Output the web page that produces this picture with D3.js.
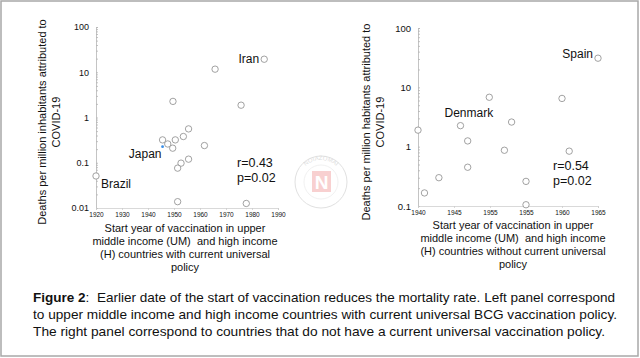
<!DOCTYPE html>
<meta charset="utf-8">
<style>
  body { margin: 0; background: #fff; }
  text { font-family: "Liberation Sans", Arial, sans-serif; fill: #111; white-space: pre; }
</style>
<svg width="640" height="358" id="chart"></svg>
<script src="https://d3js.org/d3.v7.min.js"></script>
<script>

// left panel: countries with current universal BCG policy
var leftYears  = [1920, 1945.6, 1947.6, 1949.5, 1950.5, 1953.6, 1955.6, 1961.7, 1955.6, 1952.7, 1951.4, 1951.4, 1977.8, 1984.7, 1965.8, 1949.6, 1975.8]
var leftDeaths = [0.051, 0.32, 0.26, 0.21, 0.32, 0.38, 0.56, 0.24, 0.12, 0.098, 0.076, 0.0138, 0.0126, 19.4, 11.7, 2.27, 1.87]
var leftLabels = [{name: "Brazil", i: 0, dx: 5, dy: 12, anchor: "start"},
                  {name: "Iran", i: 13, dx: -5, dy: 4, anchor: "end"}]
var japan = {year: 1945.6, deaths: 0.227}
var leftXTicks = [1920, 1930, 1940, 1950, 1960, 1970, 1980, 1990]
var leftYTicks = [0.01, 0.1, 1, 10, 100]

// right panel: countries without current universal policy
var rightYears  = [1940, 1945.9, 1953.0, 1946.9, 1952.0, 1961.0, 1946.9, 1942.9, 1940.9, 1955.0, 1955.0, 1949.9, 1960.0, 1965.0]
var rightDeaths = [1.9, 2.26, 2.6, 1.25, 0.87, 0.84, 0.45, 0.30, 0.166, 0.26, 0.105, 6.8, 6.5, 31]
var rightLabels = [{name: "Denmark", i: 1, dx: -16, dy: -9, anchor: "start"},
                   {name: "Spain", i: 13, dx: -5, dy: 0, anchor: "end"}]
var rightXTicks = [1940, 1945, 1950, 1955, 1960, 1965]
var rightXTickText = ["1940", "1945", "1955", "1955", "1960", "1965"]
var rightYTicks = [0.1, 1, 10, 100]

var caption = [
  "Earlier date of the start of vaccination reduces the mortality rate. Left panel correspond",
  "to upper middle income and high income countries with current universal BCG vaccination policy.",
  "The right panel correspond to countries that do not have a current universal vaccination policy."
]

var svg = d3.select("#chart")

svg.append("rect")
  .attr("x", 1).attr("y", 1).attr("width", 637).attr("height", 355)
  .attr("fill", "none").attr("stroke", "#a8a8a8").attr("stroke-width", 1.5)

// faint watermark
var wm = svg.append("g").attr("opacity", 0.22)
wm.append("circle").attr("cx", 321).attr("cy", 182).attr("r", 26)
  .attr("fill", "none").attr("stroke", "#777").attr("stroke-width", 1)
wm.append("circle").attr("cx", 321).attr("cy", 182).attr("r", 17)
  .attr("fill", "none").attr("stroke", "#999").attr("stroke-width", 0.6)
wm.append("rect").attr("x", 312).attr("y", 171).attr("width", 19).attr("height", 21)
  .attr("fill", "#e03030")
wm.append("text").attr("x", 321.5).attr("y", 189).attr("text-anchor", "middle")
  .style("font-size", "19px").style("font-weight", "bold").style("fill", "#fff").text("N")
wm.append("path").attr("id", "wmtop").attr("d", "M299,182 A22,22 0 0 1 343,182").attr("fill", "none")
wm.append("text").style("font-size", "6px").style("fill", "#666")
  .append("textPath").attr("href", "#wmtop").attr("startOffset", "50%").attr("text-anchor", "middle")
  .text("ΝΟΙΑΖΟΜΑΙ")

function logMinor(lo, hi) {
  var out = []
  for (var d = lo; d < hi; d *= 10)
    for (var k = 1; k < 10; k++) out.push(d * k)
  out.push(hi)
  return out
}

function panel(o) {
  var x = d3.scaleLinear().domain(o.xDomain).range(o.xRange)
  var y = d3.scaleLog().domain(o.yDomain).range(o.yRange)
  var g = svg.append("g")

  // y axis: line + minor ticks to the right
  var ya = g.append("g").attr("transform", "translate(" + o.xRange[0] + ",0)")
    .call(d3.axisLeft(y).tickValues(logMinor(o.yDomain[0], o.yDomain[1])).tickSize(-2).tickFormat(""))
  ya.selectAll("path,line").attr("stroke", "#b5b5b5").attr("stroke-width", 0.8)
  var yl = g.append("g").attr("transform", "translate(" + (o.xRange[0] - 4) + ",0)")
    .call(d3.axisLeft(y).tickValues(o.yTicks).tickSize(0).tickFormat(d3.format("~g")))
  yl.select(".domain").remove()
  yl.selectAll("text").style("font-size", o.yFont).attr("fill", "#222")

  // x axis
  var xa = g.append("g").attr("transform", "translate(0," + o.yRange[0] + ")")
    .call(d3.axisBottom(x).tickValues(o.xTicks).tickSize(2).tickPadding(2)
      .tickFormat(function(d, i) { return o.xText ? o.xText[i] : d }))
  xa.selectAll("path,line").attr("stroke", "#c8c8c8").attr("stroke-width", 0.7)
  xa.selectAll("text").style("font-size", "6.5px").attr("fill", "#222")

  // points
  g.selectAll(".pt").data(o.years).enter().append("circle")
    .attr("class", "pt")
    .attr("cx", function(d) { return x(d) })
    .attr("cy", function(d, i) { return y(o.deaths[i]) })
    .attr("r", 3.2)
    .attr("fill", "#fff").attr("stroke", "#8a8a8a").attr("stroke-width", 0.8)

  g.selectAll(".lab").data(o.labels).enter().append("text")
    .attr("x", function(d) { return x(o.years[d.i]) + d.dx })
    .attr("y", function(d) { return y(o.deaths[d.i]) + d.dy })
    .attr("text-anchor", function(d) { return d.anchor })
    .style("font-size", "12px")
    .text(function(d) { return d.name })

  // stats
  g.append("text").attr("x", o.stat[0]).attr("y", o.stat[1]).style("font-size", "12.5px").text(o.r)
  g.append("text").attr("x", o.stat[0]).attr("y", o.stat[1] + 15).style("font-size", "12.5px").text("p=0.02")

  // y title
  g.append("text")
    .attr("transform", "translate(" + o.yTitleX + "," + o.yTitleY + ") rotate(-90)")
    .attr("text-anchor", "middle").style("font-size", "11px")
    .selectAll("tspan").data(o.yTitle).enter().append("tspan")
    .attr("x", 0).attr("dy", function(d, i) { return i ? 14 : 0 }).text(function(d) { return d })

  // x title
  g.append("text").attr("text-anchor", "middle").style("font-size", "11px")
    .attr("transform", "translate(" + o.xTitleX + "," + o.xTitleY + ")")
    .selectAll("tspan").data(o.xTitle).enter().append("tspan")
    .attr("x", 0).attr("dy", function(d, i) { return i ? 13 : 0 }).text(function(d) { return d })

  return {x: x, y: y, g: g}
}

var L = panel({
  xDomain: [1920, 1990], xRange: [96, 278], yDomain: [0.01, 100], yRange: [208, 27],
  xTicks: leftXTicks, yTicks: leftYTicks, yFont: "9px",
  years: leftYears, deaths: leftDeaths, labels: leftLabels,
  stat: [237, 167], r: "r=0.43",
  yTitle: ["Deaths per million inhabitants attributed to", "COVID-19"], yTitleX: 46, yTitleY: 122,
  xTitle: ["Start year of vaccination in upper", "middle income (UM)  and high income",
           "(H) countries with current universal", "policy"], xTitleX: 185, xTitleY: 232
})

// Japan marker and label
L.g.append("circle").attr("cx", L.x(japan.year)).attr("cy", L.y(japan.deaths)).attr("r", 1.4).attr("fill", "#3a8ee6")
L.g.append("text").attr("x", L.x(japan.year) - 1).attr("y", L.y(japan.deaths) + 11)
  .attr("text-anchor", "end").style("font-size", "12px").text("Japan")

panel({
  xDomain: [1940, 1965], xRange: [418, 598], yDomain: [0.1, 100], yRange: [206, 28],
  xTicks: rightXTicks, xText: rightXTickText, yTicks: rightYTicks, yFont: "9.5px",
  years: rightYears, deaths: rightDeaths, labels: rightLabels,
  stat: [553, 170], r: "r=0.54",
  yTitle: ["Deaths per million habitants attributed to", "COVID-19"], yTitleX: 370, yTitleY: 122,
  xTitle: ["Start year of vaccination in upper", "middle income (UM)  and high income",
           "(H) countries without current universal", "policy"], xTitleX: 513, xTitleY: 229
})

// caption, stretched to the width it has in the figure
var capEnds = [615, 617, 605]
var cap = svg.append("g").style("font-size", "13px")
var first = cap.append("text").attr("x", 33).attr("y", 302)
  .attr("textLength", capEnds[0] - 33).attr("lengthAdjust", "spacingAndGlyphs")
first.append("tspan").style("font-weight", "bold").text("Figure 2")
first.append("tspan").text(":  " + caption[0])
cap.append("text").attr("x", 33).attr("y", 319)
  .attr("textLength", capEnds[1] - 33).attr("lengthAdjust", "spacingAndGlyphs").text(caption[1])
cap.append("text").attr("x", 33).attr("y", 336)
  .attr("textLength", capEnds[2] - 33).attr("lengthAdjust", "spacingAndGlyphs").text(caption[2])

</script>
